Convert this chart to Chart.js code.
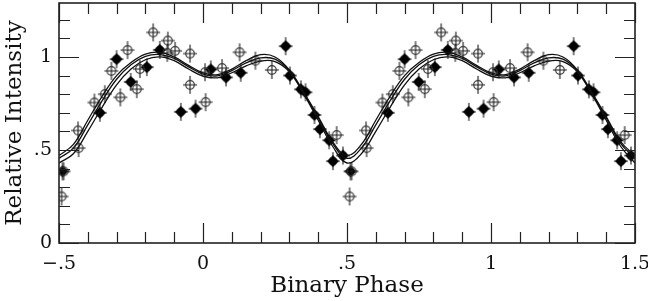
<!DOCTYPE html>
<html><head><meta charset="utf-8">
<script src="https://cdn.jsdelivr.net/npm/chart.js@4/dist/chart.umd.min.js"></script>
<style>html,body{margin:0;padding:0;background:#fff;} #wrap{width:648px;height:301px;}</style>
</head><body><div id="wrap"><canvas id="c" width="648" height="301"></canvas></div>
<script>
// ---- data (one binary cycle, plotted twice: phase and phase + 1) ----
const xTickValues = [-0.5, 0, 0.5, 1, 1.5];
const xTickLabels = ['\u2212.5', '0', '.5', '1', '1.5'];
const yTickValues = [0, 0.5, 1];
const yTickLabels = ['0', '.5', '1'];
const cycleOffsets = [0, 1];

const openPhase = [-0.491, -0.484, -0.432, -0.434, -0.377, -0.341, -0.318, -0.262, -0.287, -0.230, -0.219,
  -0.173, -0.122, -0.097, -0.124, -0.045, -0.045, 0.009, 0.007, 0.066, 0.127, 0.182, 0.239, 0.464];
const openIntensity = [0.25, 0.385, 0.51, 0.605, 0.755, 0.80, 0.925, 1.037, 0.783, 0.827, 0.935,
  1.132, 1.088, 1.033, 1.022, 1.018, 0.85, 0.757, 0.918, 0.94, 1.025, 0.98, 0.93, 0.58];

const filledPhase = [-0.488, -0.358, -0.300, -0.251, -0.195, -0.150, -0.077, -0.026, 0.027, 0.080, 0.131,
  0.287, 0.302, 0.340, 0.356, 0.387, 0.406, 0.438, 0.451, 0.486];
const filledIntensity = [0.385, 0.70, 0.988, 0.866, 0.945, 1.038, 0.705, 0.722, 0.933, 0.89, 0.915,
  1.058, 0.90, 0.826, 0.81, 0.688, 0.612, 0.552, 0.44, 0.47];

const modelPhase = [-0.5, -0.45, -0.4, -0.35, -0.3, -0.25, -0.2, -0.15, -0.1, -0.05, 0, 0.05, 0.1, 0.15, 0.2, 0.25, 0.3, 0.35, 0.4, 0.45, 0.5];
const modelHigh = [0.47, 0.53, 0.66, 0.79, 0.90, 0.97, 1.015, 1.025, 1.00, 0.955, 0.915, 0.905, 0.935, 0.98, 1.012, 1.0, 0.93, 0.81, 0.68, 0.545, 0.47];
const modelMid  = [0.455, 0.51, 0.635, 0.765, 0.88, 0.958, 1.003, 1.013, 0.992, 0.947, 0.908, 0.898, 0.927, 0.968, 0.995, 0.988, 0.925, 0.805, 0.672, 0.535, 0.455];
const modelLow  = [0.43, 0.48, 0.60, 0.73, 0.85, 0.935, 0.985, 1.0, 0.98, 0.935, 0.897, 0.888, 0.915, 0.952, 0.978, 0.975, 0.92, 0.80, 0.66, 0.52, 0.43];

// ---- helpers to build datasets ----
function cyclePoints(px, py) {
  const out = [];
  cycleOffsets.forEach(off => px.forEach((p, i) => {
    const x = p + off;
    if (x >= -0.5 && x <= 1.5) out.push({x: x, y: py[i]});
  }));
  return out;
}
function cycleCurve(vals) {
  const out = [];
  cycleOffsets.forEach((off, k) => modelPhase.forEach((p, i) => {
    if (k > 0 && i === 0) return;
    out.push({x: p + off, y: vals[i]});
  }));
  return out;
}

function makeMarker(filled) {
  const c = document.createElement('canvas');
  c.width = 20; c.height = 20;
  const g = c.getContext('2d');
  const cx = 10, cy = 10;
  g.strokeStyle = '#1a1a1a';
  g.lineWidth = 1.1;
  g.beginPath();
  g.moveTo(cx, 1); g.lineTo(cx, 19);
  g.moveTo(3, cy); g.lineTo(17, cy);
  g.stroke();
  if (filled) {
    g.fillStyle = '#000';
    g.beginPath();
    g.moveTo(cx, cy - 6); g.lineTo(cx + 6, cy); g.lineTo(cx, cy + 6); g.lineTo(cx - 6, cy); g.closePath();
    g.fill();
    g.beginPath(); g.arc(cx, cy, 4.2, 0, Math.PI * 2); g.fill();
  } else {
    g.strokeStyle = '#333';
    g.lineWidth = 1.2;
    g.beginPath(); g.arc(cx, cy, 4.3, 0, Math.PI * 2); g.stroke();
  }
  return c;
}

const frameTicks = {
  id: 'frameTicks',
  afterDatasetsDraw(chart) {
    const {ctx, chartArea: a, scales: {x, y}} = chart;
    ctx.save();
    ctx.strokeStyle = '#222';
    ctx.lineWidth = 1.2;
    const minorX = 0.1, minorY = 0.1;
    for (let i = 0; i <= Math.round((x.max - x.min) / minorX); i++) {
      const v = x.min + i * minorX;
      const px = Math.round(x.getPixelForValue(v)) + 0.5;
      const major = Math.abs(v * 2 - Math.round(v * 2)) < 1e-6;
      const L = major ? 20 : 11;
      ctx.beginPath();
      ctx.moveTo(px, a.bottom); ctx.lineTo(px, a.bottom - L);
      ctx.moveTo(px, a.top); ctx.lineTo(px, a.top + L);
      ctx.stroke();
    }
    for (let i = 0; i * minorY <= y.max + 1e-9; i++) {
      const v = i * minorY;
      const py = Math.round(y.getPixelForValue(v)) + 0.5;
      const major = i % 5 === 0;
      const L = major ? 20 : 11;
      ctx.beginPath();
      ctx.moveTo(a.left, py); ctx.lineTo(a.left + L, py);
      ctx.moveTo(a.right, py); ctx.lineTo(a.right - L, py);
      ctx.stroke();
    }
    ctx.lineWidth = 1.6;
    ctx.strokeRect(a.left, a.top, a.right - a.left, a.bottom - a.top);
    ctx.restore();
  }
};

const serif = 'DejaVu Serif';
const lineStyle = {showLine: true, pointRadius: 0, borderColor: '#111', borderWidth: 1.3, tension: 0.4, fill: false};

new Chart(document.getElementById('c'), {
  type: 'scatter',
  data: {
    datasets: [
      Object.assign({label: 'model 1', data: cycleCurve(modelHigh)}, lineStyle),
      Object.assign({label: 'model 2', data: cycleCurve(modelMid)}, lineStyle),
      Object.assign({label: 'model 3', data: cycleCurve(modelLow)}, lineStyle),
      {label: 'open', data: cyclePoints(openPhase, openIntensity), pointStyle: makeMarker(false), pointRadius: 10},
      {label: 'filled', data: cyclePoints(filledPhase, filledIntensity), pointStyle: makeMarker(true), pointRadius: 10}
    ]
  },
  options: {
    responsive: false,
    animation: false,
    layout: {autoPadding: false, padding: {top: 3, right: 13, left: 0, bottom: 0}},
    plugins: {legend: {display: false}, tooltip: {enabled: false}},
    scales: {
      x: {
        type: 'linear', min: -0.5, max: 1.5,
        grid: {display: false, drawTicks: false}, border: {display: false},
        afterBuildTicks: s => { s.ticks = xTickValues.map(v => ({value: v})); },
        afterFit: s => { s.height = 58; s.paddingLeft = 0; s.paddingRight = 0; },
        ticks: {
          autoSkip: false, maxRotation: 0, padding: 10, color: '#111',
          font: {family: serif, size: 19},
          callback: (v) => { const i = xTickValues.findIndex(t => Math.abs(t - v) < 1e-9); return i >= 0 ? xTickLabels[i] : ''; }
        },
        title: {display: true, text: 'Binary Phase', color: '#111', font: {family: serif, size: 23}, padding: {top: 0, bottom: 1}}
      },
      y: {
        type: 'linear', min: 0, max: 1.29,
        grid: {display: false, drawTicks: false}, border: {display: false},
        afterBuildTicks: s => { s.ticks = yTickValues.map(v => ({value: v})); },
        afterFit: s => { s.width = 59; s.paddingTop = 0; s.paddingBottom = 0; },
        ticks: {
          autoSkip: false, padding: 7, color: '#111',
          font: {family: serif, size: 19},
          callback: (v) => { const i = yTickValues.findIndex(t => Math.abs(t - v) < 1e-9); return i >= 0 ? yTickLabels[i] : ''; }
        },
        title: {display: true, text: 'Relative Intensity', color: '#111', font: {family: serif, size: 23}, padding: {top: 1, bottom: 0}}
      }
    }
  },
  plugins: [frameTicks]
});
</script>
</body></html>
